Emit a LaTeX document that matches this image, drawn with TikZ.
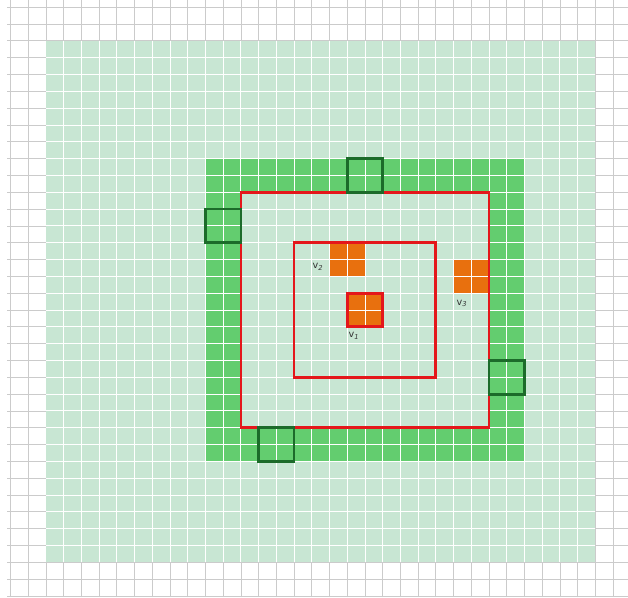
\documentclass[tikz,border=0pt]{standalone}
\usepackage{fontspec}
\setsansfont{DejaVu Sans}
\usepackage{xcolor}
\usetikzlibrary{positioning, calc}

\definecolor{paleGreen}{HTML}{C8E6D3}
\definecolor{ringGreen}{HTML}{63CD6F}
\definecolor{boxGreen}{HTML}{1C6B2A}
\definecolor{hitOrange}{HTML}{E8700E}
\definecolor{rangeRed}{HTML}{E4171B}
\definecolor{paperGrid}{HTML}{CBCBCB}

\begin{document}
\begin{tikzpicture}[
  x=0.4cm, y=0.3797cm,
  font=\sffamily\fontsize{6.2}{7}\selectfont,
  gridline/.style={paperGrid, line width=0.5pt},
  cellline/.style={white, line width=0.6pt},
  rangebox/.style={draw=rangeRed, line width=1.8pt},
  probebox/.style={draw=boxGreen, line width=1.8pt},
  vlabel/.style={inner sep=0pt, text=black!80},
]

% ---- 0. page size (same ratio as the sheet) ----
\pgfmathsetmacro{\pL}{-2.596}
\pgfmathsetmacro{\pR}{32.844}
\pgfmathsetmacro{\pB}{-2.063}
\pgfmathsetmacro{\pT}{33.43}
\useasboundingbox (\pL,\pB) rectangle (\pR,\pT);

% ---- 1. paper grid behind everything ----
\foreach \i in {-2,...,32}
  \draw[gridline] (\i,\pB) -- (\i,\pT);
\foreach \j in {-2,...,33}
  \draw[gridline] (-2.2,\j) -- (\pR,\j);

% ---- 2. the whole field, the green ring, and the inside again ----
\fill[paleGreen] (0,0) rectangle (31,31);
\fill[ringGreen] (9,6) rectangle (27,24);
\fill[paleGreen] (11,8) rectangle (25,22);

% ---- 3. orange cells (v1, v2, v3) ----
\coordinate (v1sw) at (17,14);
\coordinate (v2sw) at (16,17);
\coordinate (v3sw) at (23,16);
\fill[hitOrange] (v1sw) rectangle ++(2,2);
\fill[hitOrange] (v2sw) rectangle ++(2,2);
\fill[hitOrange] (v3sw) rectangle ++(2,2);

% white cell lines on the field
\foreach \i in {1,...,30}
  \draw[cellline] (\i,0) -- (\i,31);
\foreach \j in {1,...,30}
  \draw[cellline] (0,\j) -- (31,\j);

% ---- 4. red range boxes ----
\draw[rangebox] (11,8) rectangle (25,22);
\draw[rangebox] (14,11) rectangle (22,19);
\draw[rangebox] (v1sw) rectangle ++(2,2);

% ---- 5. dark green probe boxes on the ring ----
\draw[probebox] (17,22) rectangle ++(2,2);   % top
\draw[probebox] (9,19) rectangle ++(2,2);    % left
\draw[probebox] (25,10) rectangle ++(2,2);   % right
\draw[probebox] (12,6) rectangle ++(2,2);    % bottom

% ---- 6. labels ----
\node[vlabel] (v1lab) at ($(v1sw)+(0.38,-0.55)$) {v\textsubscript{\itshape 1}};
\node[vlabel] (v2lab) at ($(v2sw)+(-0.65,0.57)$) {v\textsubscript{\itshape 2}};
\node[vlabel] (v3lab) at ($(v3sw)+(0.48,-0.61)$) {v\textsubscript{\itshape 3}};

\end{tikzpicture}
\end{document}
